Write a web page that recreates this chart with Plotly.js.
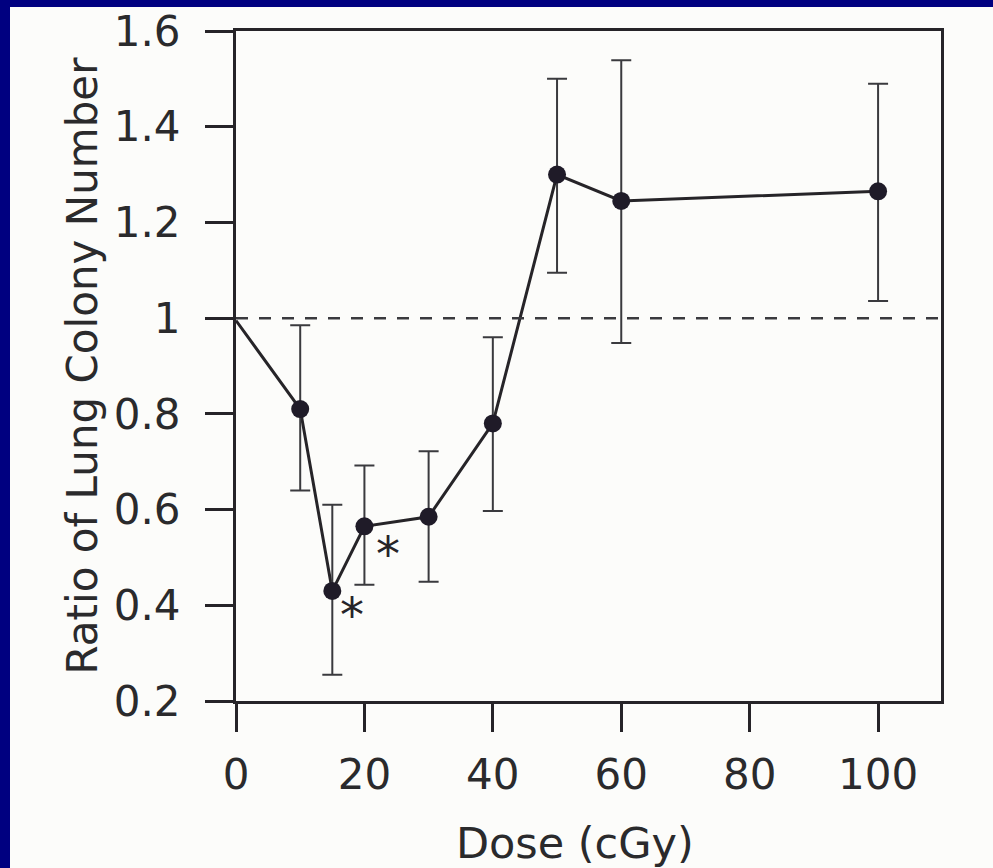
<!DOCTYPE html>
<html>
<head>
<meta charset="utf-8">
<script src="https://cdn.plot.ly/plotly-3.0.1.min.js"></script>
<style>
  html, body { margin: 0; padding: 0; background: #000080; width: 993px; height: 868px; overflow: hidden; }
  #chart { position: absolute; left: 10px; top: 7px; width: 983px; height: 861px; background: #fcfcfa; }
</style>
</head>
<body>
<div id="chart"></div>
<script>
// Dose (cGy)
const dose = [0, 10, 15, 20, 30, 40, 50, 60, 100];
// Ratio of lung colony number
const ratio = [0.995, 0.81, 0.43, 0.565, 0.585, 0.78, 1.30, 1.245, 1.265];
// Error bar extents
const errPlus  = [0, 0.175, 0.18, 0.127, 0.137, 0.18, 0.20, 0.294, 0.225];
const errMinus = [0, 0.17, 0.175, 0.122, 0.136, 0.183, 0.205, 0.297, 0.229];
// Tick labels
const xTickVals = [0, 20, 40, 60, 80, 100];
const xTickText = ['0', '20', '40', '60', '80', '100'];
const yTickVals = [0.2, 0.4, 0.6, 0.8, 1.0, 1.2, 1.4, 1.6];
const yTickText = ['0.2', '0.4', '0.6', '0.8', '1', '1.2', '1.4', '1.6'];
// Significance marks (dose, ratio level for label)
const starDose = [18.07, 23.7];
const starRatio = [0.382, 0.510];
const referenceLevel = 1.0;

const ink = '#262428';
const fontFam = '"DejaVu Sans", sans-serif';

const lineTrace = {
  x: dose, y: ratio, mode: 'lines', type: 'scatter',
  line: { color: ink, width: 3 }, hoverinfo: 'skip', showlegend: false
};
const pointTrace = {
  x: dose.slice(1), y: ratio.slice(1), mode: 'markers', type: 'scatter',
  marker: { color: '#1f1b28', size: 18, line: { width: 0 } },
  error_y: {
    type: 'data', symmetric: false,
    array: errPlus.slice(1), arrayminus: errMinus.slice(1),
    color: '#3a3a3e', thickness: 2, width: 10
  },
  showlegend: false
};

const layout = {
  width: 983, height: 861,
  paper_bgcolor: 'rgba(0,0,0,0)',
  plot_bgcolor: 'rgba(0,0,0,0)',
  margin: { l: 226, r: 52, t: 24, b: 167 },
  font: { family: fontFam, size: 42, color: '#2a2a2c' },
  showlegend: false,
  xaxis: {
    range: [0, 109.8], showgrid: false, zeroline: false,
    showline: true, linecolor: ink, linewidth: 3, mirror: true,
    ticks: 'outside', ticklen: 28, tickwidth: 3, tickcolor: ink,
    tickvals: xTickVals, ticktext: xTickText,
    ticklabelstandoff: 7, ticklabeloverflow: 'allow',
    title: { text: 'Dose (cGy)&nbsp;&nbsp;', font: { size: 43 }, standoff: 33 }
  },
  yaxis: {
    range: [0.2, 1.6], showgrid: false, zeroline: false,
    showline: true, linecolor: ink, linewidth: 3, mirror: true,
    ticks: 'outside', ticklen: 28, tickwidth: 3, tickcolor: ink,
    tickvals: yTickVals, ticktext: yTickText,
    ticklabelstandoff: 16, ticklabeloverflow: 'allow',
    title: { text: 'Ratio of Lung Colony Number', font: { size: 42 }, standoff: 4 }
  },
  shapes: [{
    type: 'line', xref: 'x', yref: 'y',
    x0: 0, x1: 109.8, y0: referenceLevel, y1: referenceLevel,
    line: { color: '#3a3a3e', width: 2.5, dash: '12px,11px' }
  }],
  annotations: starDose.map((d, i) => ({
    x: d, y: starRatio[i], xref: 'x', yref: 'y',
    text: '*', showarrow: false, yshift: -1,
    font: { family: fontFam, size: 48, color: ink }
  }))
};

Plotly.newPlot('chart', [lineTrace, pointTrace], layout, { displayModeBar: false, staticPlot: true });
</script>
</body>
</html>
